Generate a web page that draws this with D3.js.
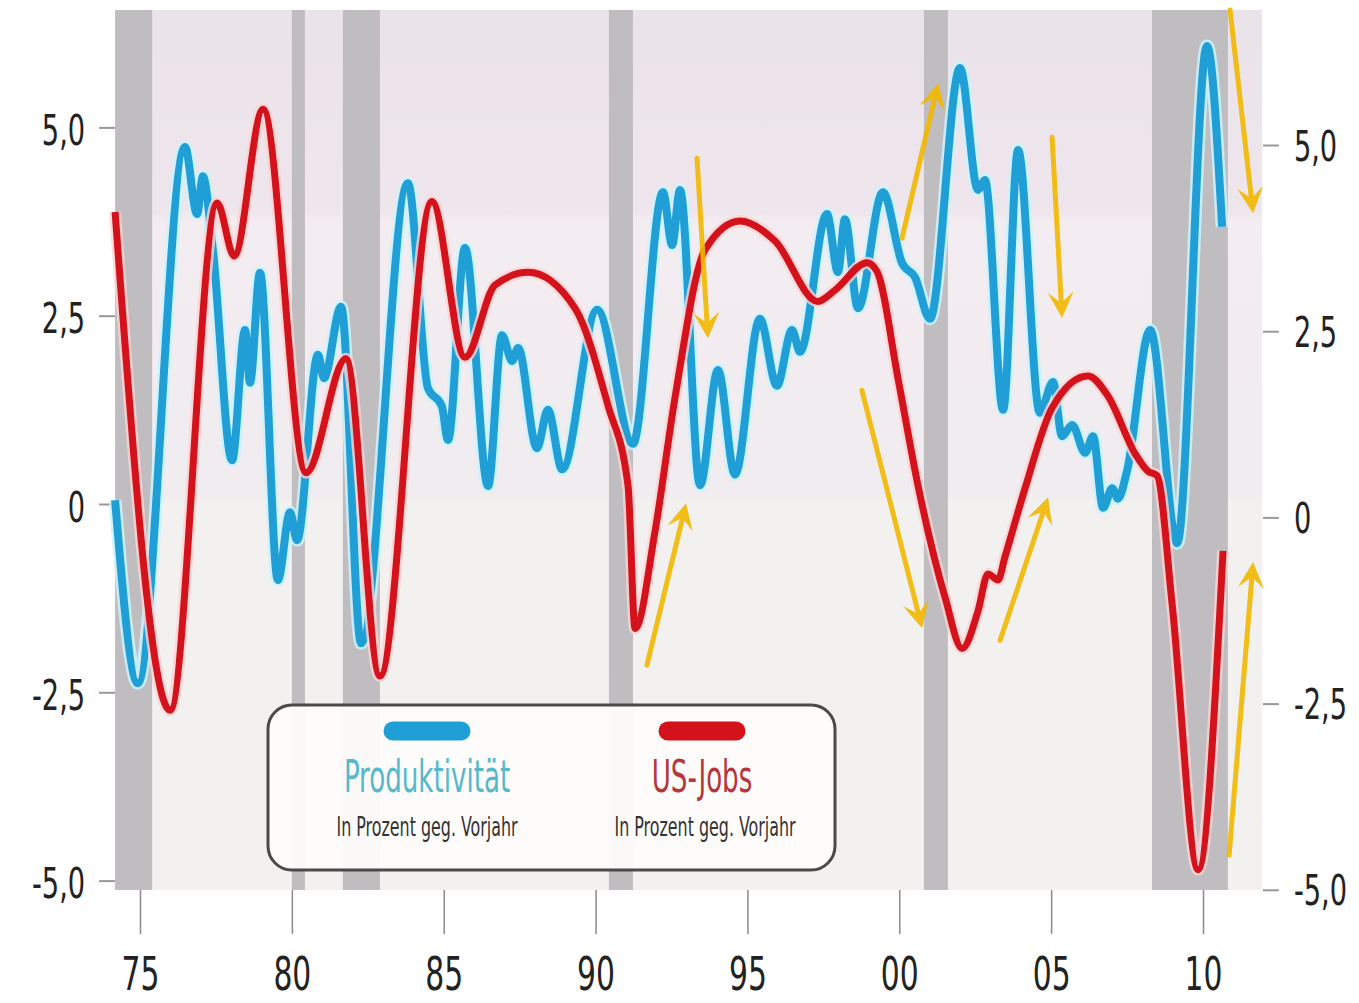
<!DOCTYPE html>
<html>
<head>
<meta charset="utf-8">
<script src="https://cdn.jsdelivr.net/npm/d3@7"></script>
<style>
  body { margin: 0; background: #fff; }
  svg { display: block; }
</style>
</head>
<body>
<div id="chart"></div>
<script>
const W = 1359, H = 1003;

// Produktivität, % gg. Vorjahr (linke Achse)
const prodYears = [1974.18, 1974.93, 1976.48, 1976.88, 1977.07, 1977.40, 1978.03, 1978.46, 1978.62, 1978.95,
  1979.54, 1979.94, 1980.17, 1980.86, 1981.06, 1981.62, 1982.28, 1983.82, 1984.48, 1984.94,
  1985.14, 1985.70, 1986.46, 1986.92, 1987.25, 1987.45, 1988.07, 1988.43, 1988.90, 1990.05,
  1991.23, 1992.22, 1992.52, 1992.78, 1993.44, 1994.03, 1994.59, 1995.41, 1995.97, 1996.47,
  1996.73, 1997.62, 1997.98, 1998.21, 1998.64, 1999.46, 2000.09, 2000.52, 2001.01, 2002.00,
  2002.59, 2002.82, 2003.42, 2003.91, 2004.63, 2005.06, 2005.36, 2005.69, 2006.12, 2006.38,
  2006.71, 2007.01, 2007.20, 2007.50, 2008.26, 2009.15, 2010.13, 2010.63];
const prodValues = [0.05, -2.38, 4.74, 3.85, 4.35, 3.37, 0.58, 2.31, 1.61, 3.07,
  -1.01, -0.11, -0.48, 1.98, 1.67, 2.62, -1.85, 4.26, 1.54, 1.30,
  0.85, 3.40, 0.24, 2.24, 1.90, 2.07, 0.74, 1.25, 0.46, 2.58,
  0.80, 4.14, 3.44, 4.17, 0.25, 1.78, 0.39, 2.46, 1.57, 2.31,
  2.02, 3.85, 3.08, 3.78, 2.60, 4.14, 3.20, 3.01, 2.46, 5.79,
  4.17, 4.30, 1.25, 4.70, 1.21, 1.62, 0.90, 1.05, 0.68, 0.90,
  -0.05, 0.21, 0.07, 0.44, 2.31, -0.52, 6.08, 3.68];

// US-Jobs, % gg. Vorjahr (rechte Achse)
const jobsYears = [1974.18, 1975.99, 1977.54, 1978.10, 1979.05, 1980.47, 1981.78, 1982.90, 1984.61, 1985.70,
  1986.69, 1987.78, 1989.32, 1990.41, 1991.07, 1991.30, 1991.96, 1992.62, 1993.60, 1994.76,
  1995.91, 1997.32, 1997.88, 1998.94, 1999.27, 1999.96, 2000.62, 2001.51, 2002.07, 2002.59,
  2002.92, 2003.25, 2003.48, 2004.14, 2005.03, 2006.21, 2006.87, 2007.76, 2008.19, 2008.49,
  2008.98, 2009.84, 2010.66];
const jobsValues = [4.10, -2.59, 4.22, 3.51, 5.48, 0.60, 2.13, -2.13, 4.24, 2.15,
  3.12, 3.29, 2.81, 1.50, 0.42, -1.49, -0.18, 1.62, 3.59, 3.98,
  3.71, 2.90, 3.05, 3.42, 3.30, 1.86, 0.42, -1.08, -1.76, -1.26,
  -0.76, -0.84, -0.53, 0.39, 1.47, 1.90, 1.63, 0.86, 0.62, 0.56,
  -1.15, -4.73, -0.45];

// Rezessionen (Jahr von, Jahr bis)
const recessions = [[1974.18, 1975.40], [1980.00, 1980.43], [1981.68, 1982.90],
  [1990.44, 1991.23], [2000.81, 2001.60], [2008.32, 2010.82]];

// Trendpfeile: [Jahr von, Wert von, Jahr bis, Wert bis] (linke Skala)
const arrows = [
  [1993.34, 4.59, 1993.70, 2.20],
  [1991.69, -2.14, 1992.98, 0.01],
  [1998.77, 1.51, 2000.75, -1.65],
  [2000.09, 3.53, 2001.28, 5.59],
  [2005.03, 4.87, 2005.36, 2.47],
  [2003.32, -1.81, 2004.90, 0.09],
  [2010.89, 6.56, 2011.65, 3.86],
  [2010.86, -4.66, 2011.65, -0.77]
];

const xTicks = [1975, 1980, 1985, 1990, 1995, 2000, 2005, 2010];
const yTicks = [-5, -2.5, 0, 2.5, 5];
const seriesNames = ["Produktivität", "US-Jobs"];
const seriesNote = "In Prozent geg. Vorjahr";

const x = d3.scaleLinear().domain([1975, 2010]).range([140, 1203]);
const yLeft = d3.scaleLinear().domain([-5, 5]).range([880.6, 127.4]);
const yRight = d3.scaleLinear().domain([-5, 5]).range([889.8, 145]);
const plotTop = 10, plotBottom = 890;
const x0 = 1974.18, xBgEnd = 2011.94;

const svg = d3.select("#chart").append("svg")
  .attr("width", W).attr("height", H);

const defs = svg.append("defs");
const grad = defs.append("linearGradient").attr("id", "bg")
  .attr("x1", 0).attr("y1", 0).attr("x2", 0).attr("y2", 1);
[[0, "#ebe3ea"], [0.23, "#eee6ec"], [0.24, "#f3edf1"], [0.55, "#f1ecef"], [0.56, "#f3f1ef"], [1, "#f2f1f0"]]
  .forEach(s => grad.append("stop").attr("offset", s[0]).attr("stop-color", s[1]));

// Hintergrund
svg.append("rect")
  .attr("x", x(x0)).attr("y", plotTop)
  .attr("width", x(xBgEnd) - x(x0)).attr("height", plotBottom - plotTop)
  .attr("fill", "url(#bg)");

// Rezessionsbalken
svg.append("g").selectAll("rect").data(recessions).enter().append("rect")
  .attr("x", d => x(d[0])).attr("y", plotTop)
  .attr("width", d => x(d[1]) - x(d[0])).attr("height", plotBottom - plotTop)
  .attr("fill", "#c0bdc0");

// Achsen
const fmt = d => d === 0 ? "0" : d.toFixed(1).replace(".", ",");
const labelFont = "'DejaVu Sans Condensed', 'DejaVu Sans', sans-serif";
const ySx = 0.72;

const gx = svg.append("g").attr("transform", `translate(0,${plotBottom})`)
  .call(d3.axisBottom(x).tickValues(xTicks).tickSize(44).tickFormat(d => String(d).slice(2)));
gx.select(".domain").remove();
gx.selectAll("line").attr("stroke", "#8a8a8a").attr("stroke-width", 1.5);
gx.selectAll("text")
  .attr("y", 100).attr("dy", 0)
  .attr("transform", "scale(0.72,1)")
  .style("font-family", labelFont).style("font-size", "46px").attr("fill", "#222");

const gl = svg.append("g").attr("transform", `translate(${x(x0)},0)`)
  .call(d3.axisLeft(yLeft).tickValues(yTicks).tickSize(16).tickFormat(fmt));
gl.select(".domain").remove();
gl.selectAll("line").attr("stroke", "#999").attr("stroke-width", 2);
gl.selectAll("text")
  .attr("x", -30 / ySx).attr("dy", 17)
  .attr("transform", `scale(${ySx},1)`)
  .style("font-family", labelFont).style("font-size", "42px").attr("fill", "#222");

const gr = svg.append("g").attr("transform", `translate(${x(xBgEnd) + 1},0)`)
  .call(d3.axisRight(yRight).tickValues(yTicks).tickSize(16).tickFormat(fmt));
gr.select(".domain").remove();
gr.selectAll("line").attr("stroke", "#999").attr("stroke-width", 2);
gr.selectAll("text")
  .attr("x", 31 / ySx).attr("dy", 15)
  .attr("transform", `scale(${ySx},1)`)
  .style("font-family", labelFont).style("font-size", "42px").attr("fill", "#222");

// Linien
const line = yScale => d3.line()
  .x(d => x(d[0])).y(d => yScale(d[1]))
  .curve(d3.curveMonotoneX);

const prod = d3.zip(prodYears, prodValues);
const jobs = d3.zip(jobsYears, jobsValues);

svg.append("path").datum(prod).attr("d", line(yLeft))
  .attr("fill", "none").attr("stroke", "#c9f3ff").attr("stroke-width", 13).attr("opacity", 0.85)
  .attr("stroke-linejoin", "round");
svg.append("path").datum(prod).attr("d", line(yLeft))
  .attr("fill", "none").attr("stroke", "#1f9fd6").attr("stroke-width", 8)
  .attr("stroke-linejoin", "round");

svg.append("path").datum(jobs).attr("d", line(yRight))
  .attr("fill", "none").attr("stroke", "#ffd2d2").attr("stroke-width", 12).attr("opacity", 0.8)
  .attr("stroke-linejoin", "round");
svg.append("path").datum(jobs).attr("d", line(yRight))
  .attr("fill", "none").attr("stroke", "#d3121c").attr("stroke-width", 7)
  .attr("stroke-linejoin", "round");

// Pfeile
const ga = svg.append("g").attr("opacity", 0.9);
arrows.forEach(a => {
  const p0 = [x(a[0]), yLeft(a[1])], p1 = [x(a[2]), yLeft(a[3])];
  const ang = Math.atan2(p1[1] - p0[1], p1[0] - p0[0]);
  const len = 26, hw = 13, notch = 11;
  const back = [p1[0] - len * Math.cos(ang), p1[1] - len * Math.sin(ang)];
  const nx = -Math.sin(ang), ny = Math.cos(ang);
  const inner = [p1[0] - (len - notch) * Math.cos(ang), p1[1] - (len - notch) * Math.sin(ang)];
  ga.append("line")
    .attr("x1", p0[0]).attr("y1", p0[1]).attr("x2", inner[0]).attr("y2", inner[1])
    .attr("stroke", "#f3b800").attr("stroke-width", 5).attr("stroke-linecap", "round");
  ga.append("path")
    .attr("d", `M${p1[0]},${p1[1]}L${back[0] + nx * hw},${back[1] + ny * hw}L${inner[0]},${inner[1]}L${back[0] - nx * hw},${back[1] - ny * hw}Z`)
    .attr("fill", "#f3b800");
});

// Legende
const lg = svg.append("g");
lg.append("rect")
  .attr("x", 268).attr("y", 705).attr("width", 567).attr("height", 165).attr("rx", 24)
  .attr("fill", "#fdfcfa").attr("fill-opacity", 0.95)
  .attr("stroke", "#4a4a4a").attr("stroke-width", 3);

const legendItems = [
  { name: seriesNames[0], cx: 427, color: "#1f9fd6", text: "#55b8cc" },
  { name: seriesNames[1], cx: 702, color: "#d3121c", text: "#b5363c" }
];
legendItems.forEach(it => {
  lg.append("line")
    .attr("x1", it.cx - 34).attr("x2", it.cx + 34).attr("y1", 731).attr("y2", 731)
    .attr("stroke", it.color).attr("stroke-width", 19).attr("stroke-linecap", "round");
  lg.append("g").attr("transform", `translate(${it.cx},792)`)
    .append("text").attr("transform", "scale(0.66,1)")
    .attr("text-anchor", "middle")
    .style("font-family", labelFont).style("font-size", "44px")
    .attr("fill", it.text).text(it.name);
  lg.append("g").attr("transform", `translate(${it.cx + (it.cx > 500 ? 3 : 0)},836)`)
    .append("text").attr("transform", "scale(0.68,1)")
    .attr("text-anchor", "middle")
    .style("font-family", labelFont).style("font-size", "26px")
    .attr("fill", "#333").text(seriesNote);
});
</script>
</body>
</html>
